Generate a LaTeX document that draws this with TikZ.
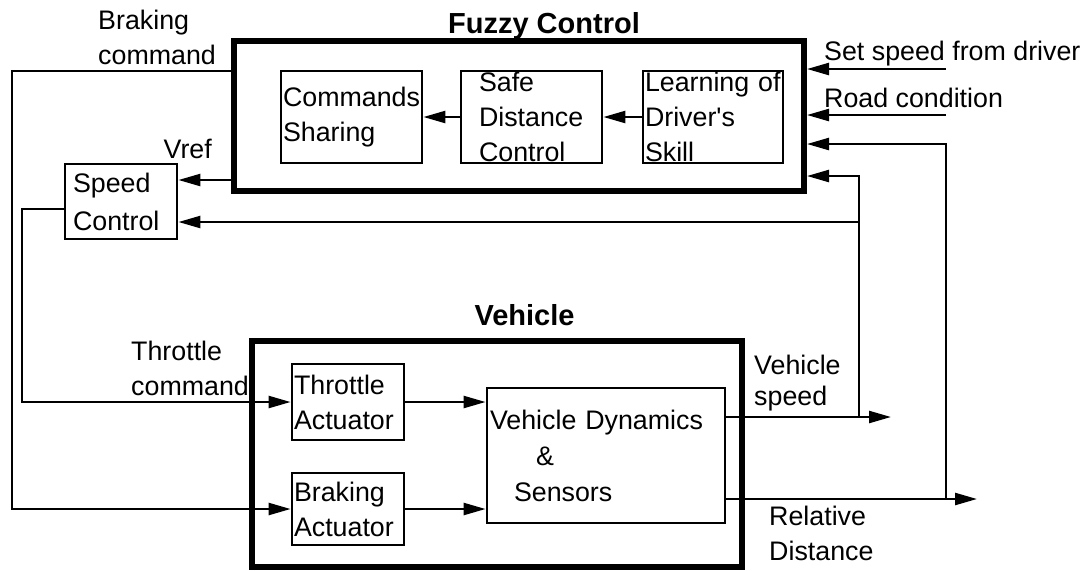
\documentclass[tikz,border=0pt]{standalone}
\usepackage{fontspec}
\setmainfont{Liberation Sans}
\usetikzlibrary{arrows.meta, positioning}
\tikzset{
    blockdiagram/.style={>={Triangle[length=11pt, width=6pt]}, line width=1.2pt,
        x=0.5pt, y=-0.5pt, font=\fontsize{13.4pt}{17.5pt}\selectfont},
    frame/.style={draw, inner sep=0pt},
    block/.style={draw, line width=1.4pt, align=left, inner xsep=1pt, inner ysep=0pt},
    title/.style={font=\fontsize{14.5pt}{17pt}\selectfont\bfseries, inner sep=0pt},
    tag/.style={inner sep=0pt, align=left},
}
\begin{document}
\begin{tikzpicture}[blockdiagram]
    \useasboundingbox (0,0) rectangle (1083,570);

    % fuzzy controller
    \node[frame, line width=3pt, minimum width=285pt, minimum height=75pt] (fuzzy) at (519,116) {};
    \node[title, anchor=base] (fuzzytitle) at (544,33) {Fuzzy Control};
    \node[block, minimum width=70.5pt, minimum height=46pt, text width=68.5pt] (share) at (351.5,117) {Commands\\Sharing};
    \node[block, minimum width=70.5pt, minimum height=46pt, inner xsep=9pt, text width=52.5pt] (safe) at (531.5,117) {Safe\\Distance\\Control};
    \node[block, minimum width=70pt, minimum height=46pt, text width=68pt] (learn) at (713,117) {Learning of\\Driver\textquotesingle s\\Skill};
    \node[block, minimum width=56pt, minimum height=37.5pt, inner xsep=4pt, text width=48pt,
        font=\fontsize{13.4pt}{19pt}\selectfont] (speed) at (121,201.5) {Speed\\Control};

    % vehicle
    \node[frame, line width=2.6pt, minimum width=245pt, minimum height=113pt] (vehicle) at (497,454) {};
    \node[title, anchor=base] (vehtitle) at (524.5,325) {Vehicle};
    \node[block, minimum width=56pt, minimum height=38pt, text width=54pt] (throttle) at (348,402) {Throttle\\Actuator};
    \node[block, minimum width=56pt, minimum height=36pt, text width=54pt] (brake) at (348,509) {Braking\\Actuator};
    \node[block, minimum width=119pt, minimum height=67.5pt, inner xsep=1.5pt, text width=116pt,
        font=\fontsize{13.4pt}{18pt}\selectfont] (dyn) at (606,455.5) {Vehicle Dynamics\\\hspace*{23pt}\&\\\hspace*{12pt}Sensors};

    % signal levels
    \coordinate (setin) at (946,69);
    \coordinate (roadin) at (946,115);
    \coordinate (distin) at (946,144);
    \coordinate (speedin) at (859,176);
    \coordinate (speedfb) at (859,222);
    \coordinate (speedout) at (891,417);
    \coordinate (distout) at (977,499);
    \coordinate (brakecmd) at (12,71);
    \coordinate (vref) at (234,180);
    \coordinate (throttlecmd) at (22,209);

    % labels
    \node[tag, anchor=south west] (brakelbl) at (97,66) {Braking\\command};
    \node[tag, anchor=south east] (vreflbl) at (213,160) {Vref};
    \node[tag, anchor=south west] (throttlelbl) at (130,397) {Throttle\\command};
    \node[tag, anchor=base west] (setlbl) at (823,60) {Set speed from driver};
    \node[tag, anchor=base west] (roadlbl) at (823,107) {Road condition};
    \node[tag, anchor=south west, font=\fontsize{13.4pt}{15.5pt}\selectfont] (speedlbl) at (753,412) {Vehicle\\speed};
    \node[tag, anchor=south west] (distlbl) at (768,562) {Relative\\Distance};

    \draw[->] (learn) -- (safe);
    \draw[->] (safe) -- (share);
    \draw[->] (setin) -- (fuzzy.east |- setin);
    \draw[->] (roadin) -- (fuzzy.east |- roadin);
    \draw[->] (fuzzy.west |- vref) -- (speed.east |- vref);
    \draw[->] (fuzzy.west |- brakecmd) -- (brakecmd) |- (brake);
    \draw[->] (speed.west |- throttlecmd) -- (throttlecmd) |- (throttle);
    \draw[->] (throttle) -- (dyn.west |- throttle);
    \draw[->] (brake) -- (dyn.west |- brake);
    \draw[->] (dyn.east |- speedout) -- (speedout);
    \draw[->] (dyn.east |- distout) -- (distout);
    \draw[->] (speedout -| speedin) -- (speedin) -- (fuzzy.east |- speedin);
    \draw[->] (distout -| distin) -- (distin) -- (fuzzy.east |- distin);
    \draw[->] (speedfb) -- (speed.east |- speedfb);
\end{tikzpicture}
\end{document}
